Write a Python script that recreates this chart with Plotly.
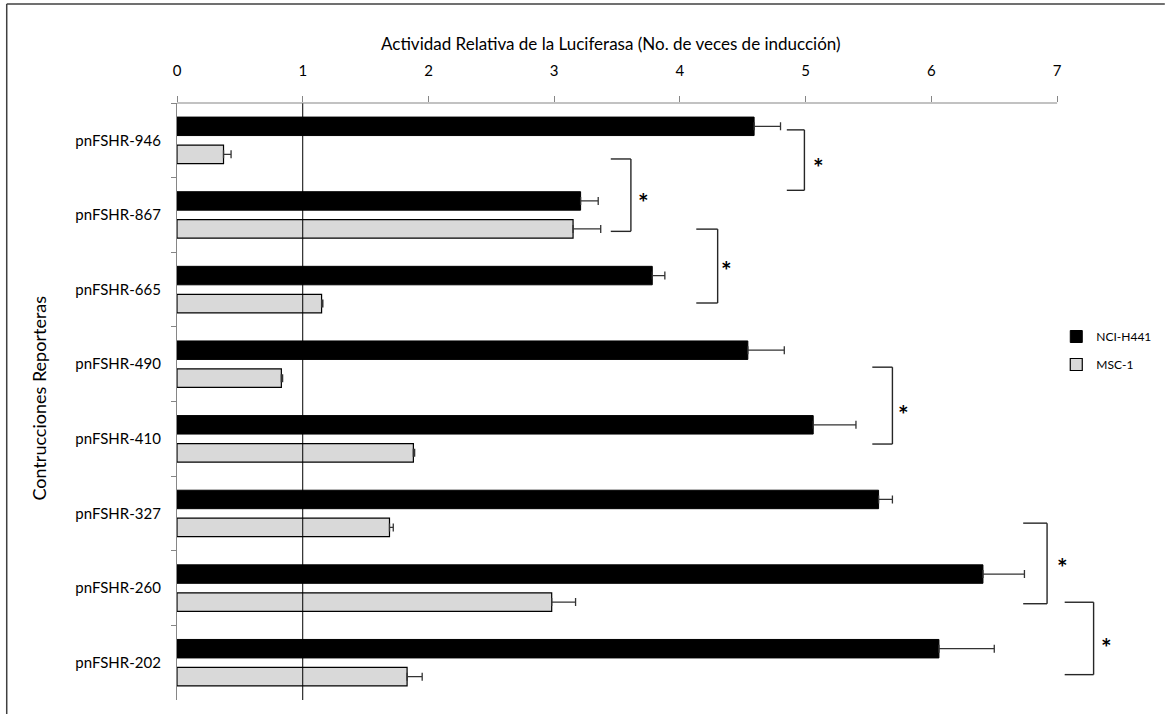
import plotly.graph_objects as go

# ---- data ----
categories = ["pnFSHR-946", "pnFSHR-867", "pnFSHR-665", "pnFSHR-490",
              "pnFSHR-410", "pnFSHR-327", "pnFSHR-260", "pnFSHR-202"]
nci_values = [4.59, 3.21, 3.78, 4.54, 5.06, 5.58, 6.41, 6.06]
nci_errors = [0.21, 0.14, 0.10, 0.29, 0.34, 0.11, 0.33, 0.44]
msc_values = [0.37, 3.15, 1.15, 0.83, 1.88, 1.69, 2.98, 1.83]
msc_errors = [0.06, 0.22, 0.01, 0.01, 0.01, 0.03, 0.19, 0.12]
x_ticks = [0, 1, 2, 3, 4, 5, 6, 7]
# significance brackets: x start, x end, y top, y bottom (category units), star x, star y
bracket_x0 = [4.85, 3.45, 4.13, 5.53, 6.73, 7.06]
bracket_x1 = [4.99, 3.61, 4.30, 5.69, 6.92, 7.29]
bracket_top = [-0.14, 0.25, 1.19, 3.04, 5.13, 6.19]
bracket_bot = [0.67, 1.22, 2.18, 4.07, 6.21, 7.16]
star_x = [5.10, 3.71, 4.37, 5.78, 7.04, 7.39]
star_y = [0.26, 0.73, 1.64, 3.58, 5.63, 6.70]

FONT = "Lato"
W, H = 1169, 714
L, R, T, B = 177, 45, 103, 14
plot_h = H - T - B
plot_w = W - L - R

def py(p):  # pixel y -> paper
    return (H - B - p) / plot_h

def px(p):  # pixel x -> paper
    return (p - L) / plot_w

fig = go.Figure()
fig.add_trace(go.Bar(
    y=categories, x=nci_values, orientation="h", name="NCI-H441",
    legendgroup="a",
    marker=dict(color="#000000", line=dict(color="#000000", width=1)),
    error_x=dict(type="data", symmetric=False, array=nci_errors,
                 arrayminus=[0] * len(nci_errors), color="#333333",
                 thickness=1.3, width=4),
))
fig.add_trace(go.Bar(
    y=categories, x=msc_values, orientation="h", name="MSC-1",
    legendgroup="b",
    marker=dict(color="#d9d9d9", line=dict(color="#000000", width=1.2)),
    error_x=dict(type="data", symmetric=False, array=msc_errors,
                 arrayminus=[0] * len(msc_errors), color="#333333",
                 thickness=1.3, width=4),
))

shapes = []
# reference line at 1
shapes.append(dict(type="line", xref="x", yref="paper", x0=1, x1=1, y0=0, y1=1,
                   line=dict(color="#000000", width=1), layer="above"))
# top axis line from 0 to 7
shapes.append(dict(type="line", xref="x", yref="paper", x0=0, x1=7, y0=1, y1=1,
                   line=dict(color="#868686", width=1.2), layer="above"))
# brackets
for x0, x1, yt, yb in zip(bracket_x0, bracket_x1, bracket_top, bracket_bot):
    style = dict(color="#262626", width=1.4)
    shapes.append(dict(type="line", xref="x", yref="y", x0=x0, x1=x1, y0=yt, y1=yt, line=style))
    shapes.append(dict(type="line", xref="x", yref="y", x0=x1, x1=x1, y0=yt, y1=yb, line=style))
    shapes.append(dict(type="line", xref="x", yref="y", x0=x0, x1=x1, y0=yb, y1=yb, line=style))
# outer frame (top and left edges visible in the picture)
frame = dict(color="#404040", width=1.5)
shapes.append(dict(type="line", xref="paper", yref="paper",
                   x0=px(6), x1=px(W), y0=py(4), y1=py(4), line=frame))
shapes.append(dict(type="line", xref="paper", yref="paper",
                   x0=px(6), x1=px(6), y0=py(4), y1=py(H), line=frame))

annotations = []
for sx, sy in zip(star_x, star_y):
    annotations.append(dict(x=sx, y=sy, xref="x", yref="y", text="<b>*</b>",
                            showarrow=False, yshift=-7,
                            font=dict(family=FONT, size=25, color="#000000")))
annotations.append(dict(x=3.45, y=py(43), xref="x", yref="paper",
                        text="Actividad Relativa de la Luciferasa (No. de veces de inducción)",
                        showarrow=False, xanchor="center", yanchor="middle",
                        font=dict(family=FONT, size=17, color="#000000")))
annotations.append(dict(x=px(38), y=py(398), xref="paper", yref="paper",
                        text="Contrucciones Reporteras", textangle=-90,
                        showarrow=False, xanchor="center", yanchor="middle",
                        font=dict(family=FONT, size=18, color="#000000")))

fig.update_layout(
    width=W, height=H,
    margin=dict(l=L, r=R, t=T, b=B),
    paper_bgcolor="white", plot_bgcolor="white",
    barmode="group", bargap=0.25, bargroupgap=0.34,
    font=dict(family=FONT, color="#000000"),
    showlegend=True,
    legend=dict(x=px(1060), y=py(322), xanchor="left", yanchor="top",
                traceorder="grouped", tracegroupgap=9,
                font=dict(family=FONT, size=12, color="#000000"),
                bgcolor="rgba(0,0,0,0)"),
    shapes=shapes, annotations=annotations,
    xaxis=dict(side="top", range=[0, 7.5], tickvals=x_ticks,
               ticks="outside", ticklen=6, tickcolor="#868686",
               showline=False, showgrid=False, zeroline=False,
               ticklabelstandoff=14,
               tickfont=dict(family=FONT, size=15, color="#000000")),
    yaxis=dict(type="category", range=[7.5, -0.5],
               tickson="boundaries", ticks="outside", ticklen=5,
               tickcolor="#868686", showline=True, linecolor="#868686",
               linewidth=1.2, showgrid=False, zeroline=False,
               ticklabelstandoff=12,
               tickfont=dict(family=FONT, size=15, color="#000000")),
)

fig.write_html("out.html", config={"displayModeBar": False},
               post_script="document.body.style.margin='0';document.body.style.overflow='hidden';")
